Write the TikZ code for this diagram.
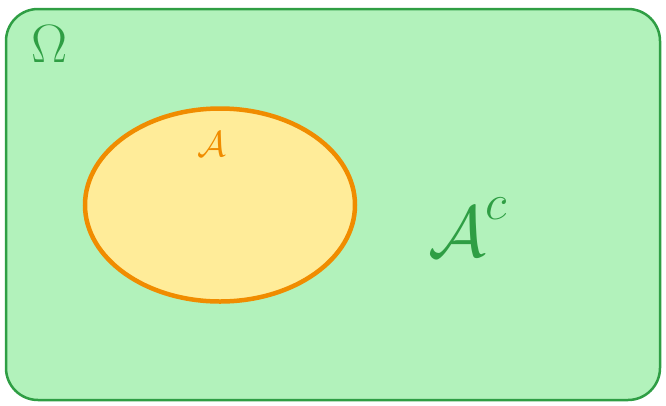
\documentclass[tikz,border=0pt]{standalone}
\usepackage{fix-cm}
\usetikzlibrary{shapes.geometric}
\definecolor{gfill}{HTML}{B2F2BB}
\definecolor{gline}{HTML}{2F9E44}
\definecolor{yfill}{HTML}{FFEC99}
\definecolor{oline}{HTML}{F08C00}
\tikzset{
  universe/.style={draw=gline, fill=gfill, line width=2.5pt, rounded corners=32pt, minimum width=654pt, minimum height=391pt, inner sep=0pt},
  setbox/.style={ellipse, draw=oline, fill=yfill, line width=4.5pt, minimum width=270pt, minimum height=193pt, inner sep=0pt},
  glabel/.style={text=gline, inner sep=0pt},
  olabel/.style={text=oline, inner sep=0pt}
}
\begin{document}
\begin{tikzpicture}[x=1pt,y=-1pt]
\useasboundingbox (0,0) rectangle (666,405);
\node[universe] (omega) at (333,204.5) {};
\node[setbox] (setA) at (220,205) {};
\node[glabel] (omegalabel) at (50,44) {\fontsize{54}{60}\selectfont$\Omega$};
\node[olabel] (alabel) at (212,144) {\fontsize{36}{40}\selectfont$\mathcal{A}$};
\node[glabel, anchor=base west] (aclabel) at (428,256) {\fontsize{72}{80}\selectfont$\mathcal{A}^{\raisebox{10pt}{$\scriptstyle c$}}$};
\end{tikzpicture}
\end{document}
